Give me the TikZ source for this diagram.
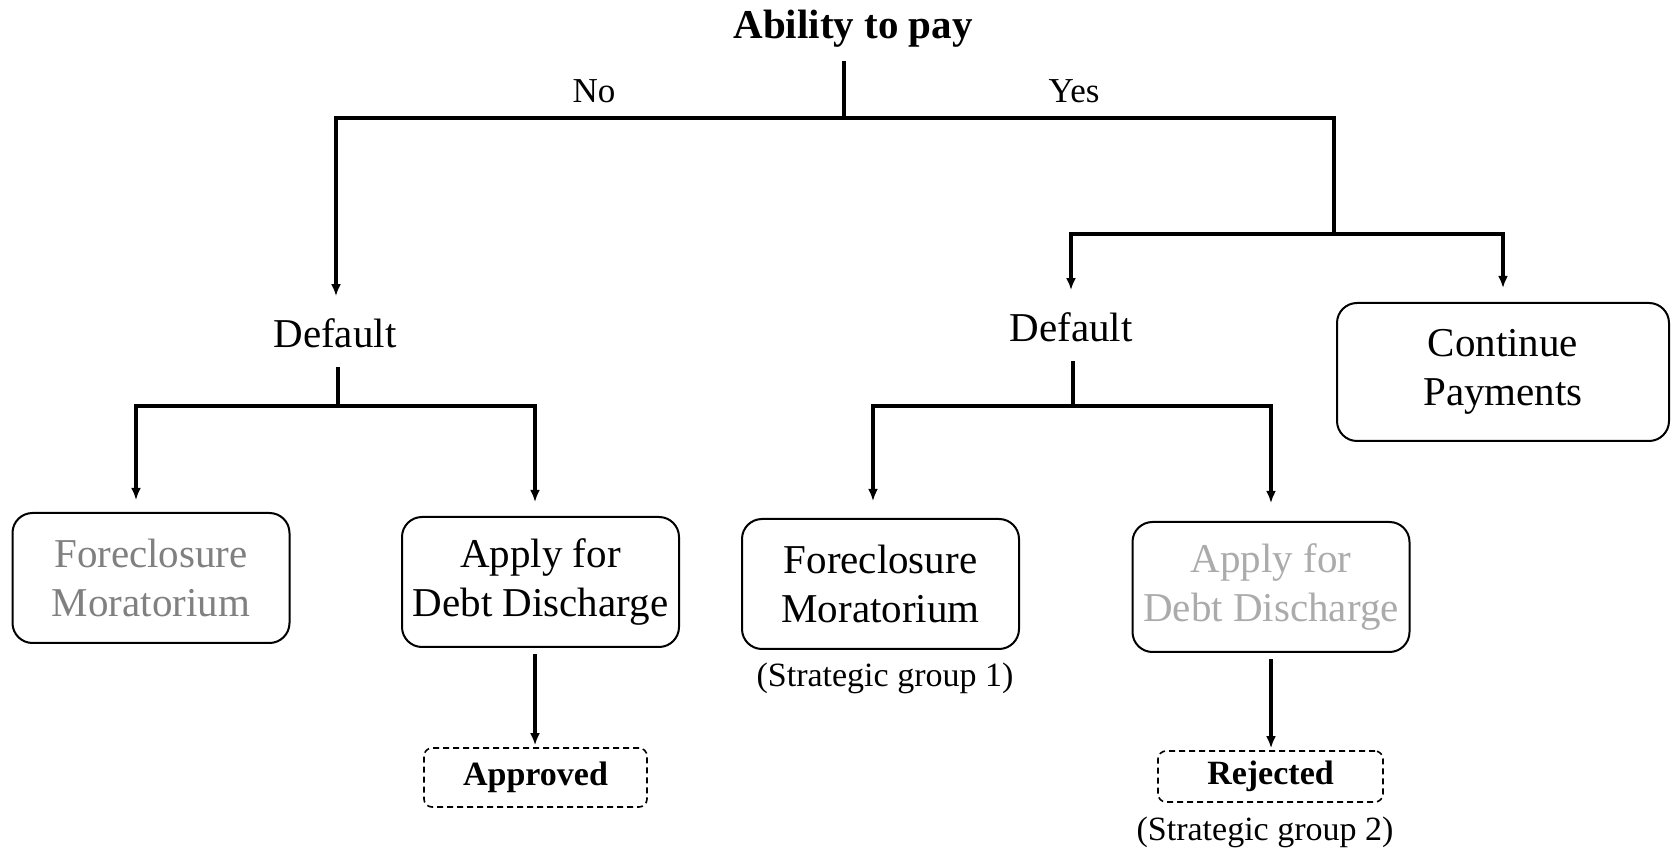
\documentclass[tikz,border=0pt]{standalone}
\usepackage{fontspec}
\setmainfont{Liberation Serif}
\usetikzlibrary{arrows.meta}
\definecolor{greyA}{HTML}{808080}
\definecolor{greyB}{HTML}{ABABAB}
\begin{document}
\begin{tikzpicture}[x=0.5pt,y=-0.5pt,
  conn/.style={line width=1.75pt},
  arr/.style={conn,-{Latex[length=6pt,width=5pt]}},
  bigtxt/.style={font=\fontsize{20.5}{24.5}\selectfont},
  smalltxt/.style={font=\fontsize{17}{20}\selectfont},
  choice/.style={draw,line width=1pt,rounded corners=10pt,align=center,
    font=\fontsize{20.5}{24.5}\selectfont,inner sep=0pt,
    minimum width=138.5pt,minimum height=65pt},
  outcome/.style={draw,dash pattern=on 3pt off 2pt,line width=0.8pt,
    rounded corners=4pt,font=\bfseries\fontsize{17}{20}\selectfont,inner sep=0pt},
  deftxt/.style={font=\fontsize{20.5}{24.5}\selectfont,inner sep=0pt,
    text height=25.75pt,text depth=9.25pt,anchor=base}
]
\useasboundingbox (0,0) rectangle (1671,849);

% nodes
\node[font=\bfseries\fontsize{20.5}{24}\selectfont,anchor=base,inner sep=0pt,
  text depth=11pt] (title) at (853,39) {Ability to pay};
\node[font=\fontsize{17.5}{20}\selectfont,anchor=base,inner sep=0pt] (no) at (594,103) {No};
\node[font=\fontsize{17.5}{20}\selectfont,anchor=base,inner sep=0pt] (yes) at (1074,103) {Yes};
\node[deftxt] (d1) at (335,348) {Default};
\node[deftxt] (d2) at (1071,342) {Default};
\node[choice,minimum width=166pt,minimum height=69pt] (cp) at (1503,372) {Continue\\Payments};
\node[choice,text=greyA] (b1) at (151,578) {Foreclosure\\Moratorium};
\node[choice] (b2) at (540.5,582) {Apply for\\Debt Discharge};
\node[choice] (b3) at (880.5,584) {Foreclosure\\Moratorium};
\node[choice,text=greyB] (b4) at (1271,587) {Apply for\\Debt Discharge};
\node[smalltxt,anchor=base,inner sep=0pt] (sg1) at (885,687) {(Strategic group 1)};
\node[outcome,minimum width=111.5pt,minimum height=29.5pt] (ap) at (535.5,777.5) {Approved};
\node[outcome,minimum width=112.5pt,minimum height=25.5pt] (rj) at (1270.5,776.5) {Rejected};
\node[smalltxt,anchor=base,inner sep=0pt] (sg2) at (1265,840) {(Strategic group 2)};

% junction coordinates
\coordinate (j0) at (844,118);
\coordinate (jL) at (336,118);
\coordinate (jR) at (1334,118);
\coordinate (k0) at (1334,234);
\coordinate (kL) at (1071,234);
\coordinate (kR) at (1503,234);
\coordinate (m0) at (338,406);
\coordinate (mL) at (136,406);
\coordinate (mR) at (535,406);
\coordinate (n0) at (1073,406);
\coordinate (nL) at (873,406);
\coordinate (nR) at (1271,406);

% top level
\draw[conn] (title.south -| j0) -- (j0);
\draw[arr] (jR) -- (jL) -- (jL |- d1.north);
\draw[conn] (jL) -- (jR) -- (k0);
\draw[arr] (kR) -- (kL) -- (kL |- d2.north);
\draw[arr,shorten >=7pt] (kL) -- (kR) -- (kR |- cp.north);

% left default
\draw[conn] (m0 |- d1.south) -- (m0);
\draw[arr,shorten >=6pt] (mR) -- (mL) -- (mL |- b1.north);
\draw[arr,shorten >=7pt] (mL) -- (mR) -- (mR |- b2.north);

% right default
\draw[conn] (n0 |- d2.south) -- (n0);
\draw[arr,shorten >=8.5pt] (nR) -- (nL) -- (nL |- b3.north);
\draw[arr,shorten >=9pt] (nL) -- (nR) -- (nR |- b4.north);

% outcomes
\draw[arr,shorten <=3pt,shorten >=1pt] (b2.south -| mR) -- (ap.north -| mR);
\draw[arr,shorten <=3pt,shorten >=1pt] (b4.south -| nR) -- (rj.north -| nR);
\end{tikzpicture}
\end{document}
